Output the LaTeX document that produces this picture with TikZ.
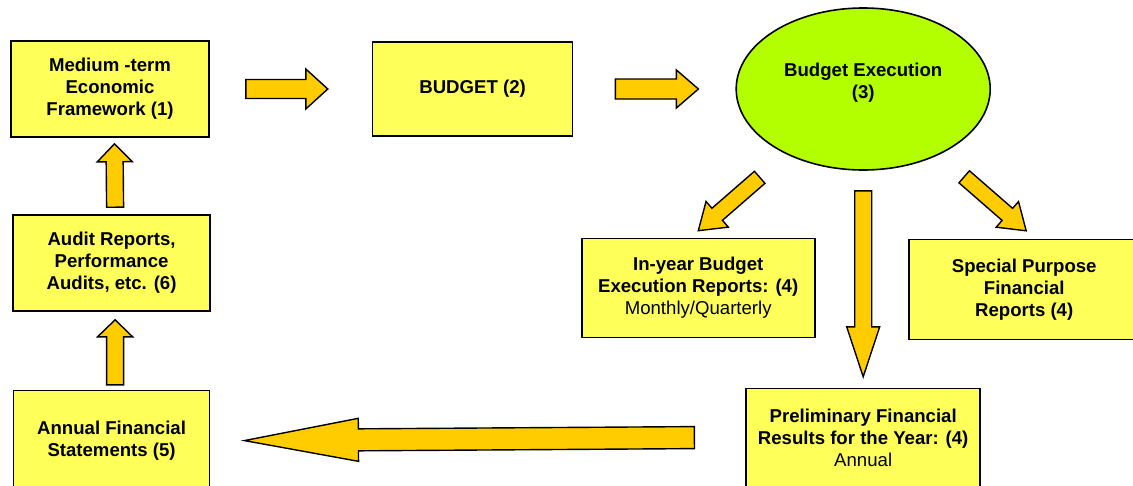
\documentclass[tikz,border=0pt]{standalone}
\usepackage{fontspec}
\setmainfont{Liberation Sans}
\usepackage{tikz}
\usetikzlibrary{positioning,calc,shapes.geometric}

\definecolor{boxyellow}{HTML}{FFFF5A}
\definecolor{arrowgold}{HTML}{FFCC00}
\definecolor{execgreen}{HTML}{B3FF00}

% fat arrow from #1 to #2: half shaft, half head, head length
\newcommand{\blockarrow}[5]{%
    \path let \p1 = ($(#2)-(#1)$) in
        \pgfextra{\pgfmathsetmacro{\arrang}{atan2(\y1,\x1)}%
                  \pgfmathsetmacro{\arrlen}{veclen(\x1,\y1)}%
                  \xdef\arrang{\arrang}\xdef\arrlen{\arrlen}};
    \begin{scope}[shift = {(#1)}, rotate = \arrang, x = 1pt, y = 1pt]
        \draw[block arrow] (0,-#3) -- ({\arrlen-#5},-#3) -- ({\arrlen-#5},-#4)
            -- (\arrlen,0) -- ({\arrlen-#5},#4) -- ({\arrlen-#5},#3) -- (0,#3) -- cycle;
    \end{scope}}

\begin{document}
\begin{tikzpicture}[
            x = 1pt, y = -1pt, % one unit per pixel
            node distance = 162pt, % distance between nodes
            font = \fontsize{18.6pt}{22pt}\selectfont\bfseries
        ]

        \tikzstyle{box}=[
            draw = black,
            line width = 1.6pt,
            fill = boxyellow,
            align = center,
            inner sep = 0pt
        ]
        \tikzstyle{block arrow}=[
            draw = black,
            line width = 1.4pt,
            fill = arrowgold,
            line join = miter
        ]

        \useasboundingbox (0,0) rectangle (1133,485);
        \clip (0,0) rectangle (1133,485);

        \node (mtef) [box, minimum width = 198pt, minimum height = 96pt] at (110,89) {Medium -term\\Economic\\Framework (1)};
        \node (budget) [box, minimum width = 200pt, minimum height = 94pt, right = of mtef] {BUDGET (2)};
        \node (exec) [ellipse, draw = black, line width = 1.6pt, fill = execgreen, align = center, inner sep = 0pt,
            minimum width = 254pt, minimum height = 162pt, text depth = 16pt, right = of budget] {Budget Execution\\(3)};
        \node (inyear) [box, minimum width = 233pt, minimum height = 99pt, below = 67pt of exec, xshift = -165pt]
            {In-year Budget\\Execution Reports: (4)\\{\mdseries Monthly/Quarterly}};
        \node (special) [box, minimum width = 230pt, minimum height = 100pt, below = 68pt of exec, xshift = 161pt]
            {Special Purpose\\Financial\\Reports (4)};
        \node (prelim) [box, minimum width = 234pt, minimum height = 98pt, below = 217pt of exec]
            {Preliminary Financial\\Results for the Year: (4)\\{\mdseries Annual}};
        \node (annual) [box, minimum width = 196pt, minimum height = 100pt, left = 535pt of prelim, yshift = -3pt]
            {Annual Financial\\Statements (5)};
        \node (audit) [box, minimum width = 197pt, minimum height = 96pt, above = 78pt of annual]
            {Audit Reports,\\Performance\\Audits, etc. (6)};

        \coordinate (a1s) at ($(mtef.east)+(36,0)$);
        \coordinate (a1e) at ($(budget.west)+(-44,0)$);
        \coordinate (a2s) at ($(budget.east)+(42,0)$);
        \coordinate (a2e) at ($(exec.west)+(-37,0)$);
        \coordinate (a3s) at ($(exec.south)+(-103.5,6.5)$);
        \coordinate (a3e) at ($(inyear.north)+(0,-7)$);
        \coordinate (a4s) at ($(exec.south)+(101,6)$);
        \coordinate (a4e) at ($(special.north)+(2,-8)$);
        \coordinate (a5s) at ($(exec.south)+(0,20)$);
        \coordinate (a5e) at ($(prelim.north)+(0,-11)$);
        \coordinate (a6s) at ($(prelim.west)+(-51,0)$);
        \coordinate (a6e) at ($(annual.east)+(34,0)$);
        \coordinate (a7s) at ($(annual.north)+(3.5,-5)$);
        \coordinate (a7e) at ($(audit.south)+(3.5,8)$);
        \coordinate (a8s) at ($(audit.north)+(3.5,-7)$);
        \coordinate (a8e) at ($(mtef.south)+(4.5,6)$);

        \blockarrow{a1s}{a1e}{9.5}{20}{22}
        \blockarrow{a2s}{a2e}{10}{19}{22}
        \blockarrow{a3s}{a3e}{8}{17}{25}
        \blockarrow{a4s}{a4e}{8}{17}{25}
        \blockarrow{a5s}{a5e}{8.5}{16.5}{50}
        \blockarrow{a6s}{a6e}{11}{21.5}{114}
        \blockarrow{a7s}{a7e}{8.5}{17.5}{17}
        \blockarrow{a8s}{a8e}{8.5}{17.5}{18}
    \end{tikzpicture}
\end{document}
